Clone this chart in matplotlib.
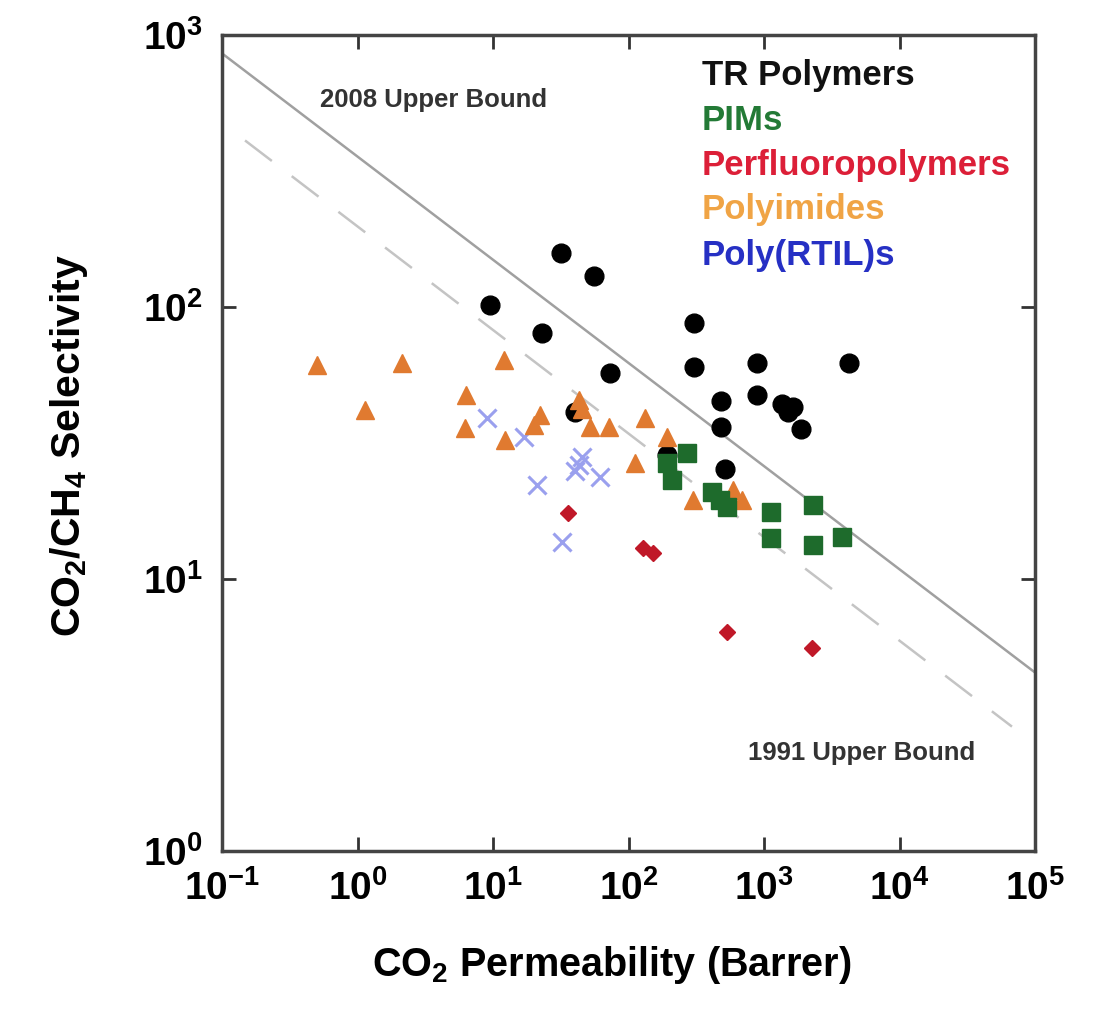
import matplotlib
matplotlib.use("Agg")
import matplotlib.pyplot as plt
import numpy as np

plt.rcParams['font.family'] = ['Liberation Sans', 'DejaVu Sans']
plt.rcParams['mathtext.fontset'] = 'custom'
plt.rcParams['mathtext.rm'] = 'Liberation Sans:bold'
plt.rcParams['mathtext.bf'] = 'Liberation Sans:bold'
plt.rcParams['mathtext.it'] = 'Liberation Sans:bold'

# ---- data (CO2 permeability [Barrer], CO2/CH4 selectivity) ----
tr_x = [9.5, 32, 56, 23, 73, 40, 304, 304, 887, 4240, 482, 887, 1358, 1637, 1500, 1862, 482, 192, 515]
tr_y = [102, 158, 130, 80, 57, 41, 87, 60, 62, 62, 45, 47.5, 44, 43, 41, 35.6, 36.2, 28.6, 25.4]

pim_x = [270, 192, 209, 413, 473, 533, 1127, 1127, 2301, 2301, 3767]
pim_y = [29, 26.7, 23.1, 20.9, 19.5, 18.4, 17.6, 14.2, 18.7, 13.3, 14.3]

pfp_x = [35.8, 128, 152, 533, 2260]
pfp_y = [17.5, 13.0, 12.5, 6.4, 5.57]

pi_x = [0.50, 2.13, 12.1, 1.14, 6.36, 6.2, 12.2, 20.1, 22.3, 43.2, 45, 52, 71.8, 112, 132, 192, 299, 589, 689]
pi_y = [61.2, 62.2, 63.8, 41.8, 47.4, 35.9, 32.4, 36.8, 40.1, 45.5, 42, 36.2, 36.2, 26.7, 39.1, 33.3, 19.5, 21.2, 19.5]

rtil_x = [9.0, 16.9, 21.1, 43.2, 45.4, 61.7, 32.3, 40]
rtil_y = [39.1, 33.3, 22.2, 26.2, 28.1, 23.7, 13.7, 25]

# Robeson upper bounds: P = k * alpha^n
ub2008_k, ub2008_n = 5369140, -2.636
ub1991_k, ub1991_n = 1073700, -2.6264

legend_labels = ["TR Polymers", "PIMs", "Perfluoropolymers", "Polyimides", "Poly(RTIL)s"]
legend_colors = ["#111111", "#237a36", "#dc1f38", "#f0a445", "#2630c4"]

x_ticks = [1e-1, 1e0, 1e1, 1e2, 1e3, 1e4, 1e5]
x_ticklabels = [r'$10^{-1}$', r'$10^{0}$', r'$10^{1}$', r'$10^{2}$', r'$10^{3}$', r'$10^{4}$', r'$10^{5}$']
y_ticks = [1, 10, 100, 1000]
y_ticklabels = [r'$10^{0}$', r'$10^{1}$', r'$10^{2}$', r'$10^{3}$']

fig = plt.figure(figsize=(10.96, 10.09), dpi=100)
ax = fig.add_axes([222/1096, 1-851/1009, (1035-222)/1096, (851-35)/1009])
ax.set_xscale('log')
ax.set_yscale('log')
ax.set_xlim(1e-1, 1e5)
ax.set_ylim(1, 1e3)

p1 = np.logspace(-1, 5, 50)
ax.plot(p1, (p1/ub2008_k)**(1/ub2008_n), color='#a0a0a0', lw=1.8, zorder=1)
p2 = np.logspace(-0.83, 4.83, 50)
ax.plot(p2, (p2/ub1991_k)**(1/ub1991_n), color='#c4c4c4', lw=1.8,
        dashes=(13.5, 10), zorder=1)

ax.plot(pi_x, pi_y, '^', color='#e07a30', ms=13, mec='#e07a30', ls='none', zorder=3)
ax.plot(rtil_x, rtil_y, 'x', color='#9aa0ee', ms=13, mew=2.2, ls='none', zorder=2)
ax.plot(tr_x, tr_y, 'o', color='black', ms=13.5, ls='none', zorder=2)
ax.plot(pim_x, pim_y, 's', color='#1e6b2c', ms=13, ls='none', zorder=4)
ax.plot(pfp_x, pfp_y, 'D', color='#c01828', ms=8, ls='none', zorder=4)

ax.text((320-222)/813, (851-100)/816, "2008 Upper Bound", transform=ax.transAxes, fontsize=18.5,
        fontweight='bold', color='#333333', va='center', ha='left')
ax.text((748-222)/813, (851-753)/816, "1991 Upper Bound", transform=ax.transAxes, fontsize=18.5,
        fontweight='bold', color='#333333', va='center', ha='left')

for i, (lab, col) in enumerate(zip(legend_labels, legend_colors)):
    ax.text((702-222)/813, (851-75-45*i)/816, lab, transform=ax.transAxes, fontsize=25,
            fontweight='bold', color=col, va='center', ha='left')

ax.set_xticks(x_ticks)
ax.set_xticklabels(x_ticklabels)
ax.set_yticks(y_ticks)
ax.set_yticklabels(y_ticklabels)
ax.minorticks_off()
ax.tick_params(which='major', direction='in', length=10, width=2, labelsize=28,
               top=True, right=True, color='#333333')
ax.tick_params(axis='x', pad=14)
ax.tick_params(axis='y', pad=14)
for s in ax.spines.values():
    s.set_linewidth(2.5)
    s.set_color('#444444')

ax.set_xlabel(r'CO$_2$ Permeability (Barrer)', fontsize=28.5, fontweight='bold')
ax.xaxis.set_label_coords((612-222)/813, (851-965)/816)
ax.xaxis.label.set_va('center')
ax.set_ylabel(r'CO$_2$/CH$_4$ Selectivity', fontsize=29.5, fontweight='bold')
ax.yaxis.set_label_coords((69-222)/813, (851-445)/816)
ax.yaxis.label.set_va('center')

fig.savefig('out.png', dpi=100)
